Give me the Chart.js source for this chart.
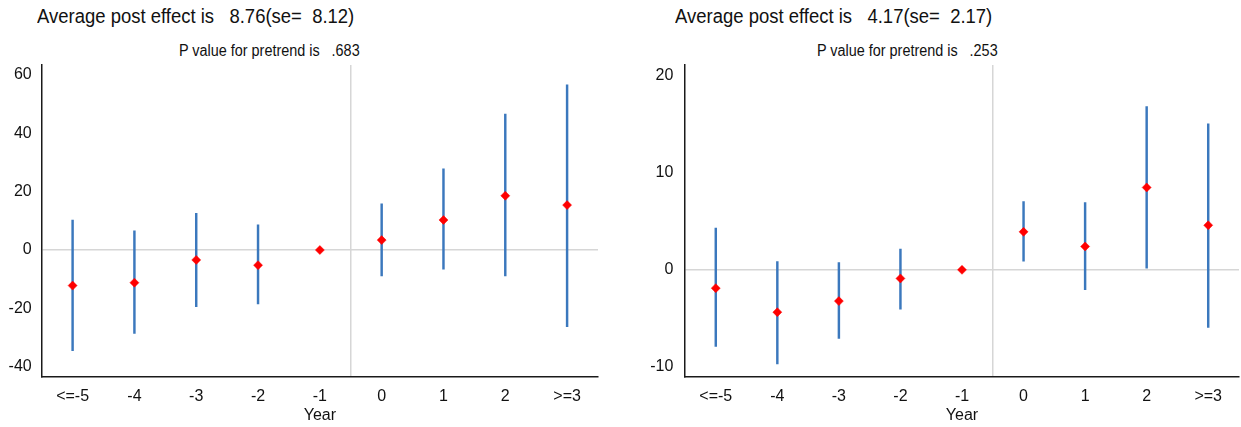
<!DOCTYPE html>
<html>
<head>
<meta charset="utf-8">
<script src="https://cdn.jsdelivr.net/npm/chart.js@4"></script>
<style>
  html, body { margin: 0; padding: 0; background: #fff; width: 1241px; height: 427px; overflow: hidden; }
  body { position: relative; font-family: "Liberation Sans", Arial, sans-serif; }
  canvas { position: absolute; top: 0; }
  .title { position: absolute; white-space: pre; font-size: 20px; line-height: 20px; color: #111; transform-origin: left top; transform: scaleX(0.924); }
  .sub { position: absolute; white-space: pre; font-size: 16px; line-height: 16px; color: #111; transform-origin: left top; transform: scaleX(0.9); }
</style>
</head>
<body>
<div class="title" style="left:37px; top:6px;">Average post effect is   8.76(se=  8.12)</div>
<div class="sub" style="left:179px; top:43px;">P value for pretrend is   .683</div>
<div class="title" style="left:675px; top:6px;">Average post effect is   4.17(se=  2.17)</div>
<div class="sub" style="left:817px; top:43px;">P value for pretrend is   .253</div>
<canvas id="c1" width="620" height="427" style="left:0; width:620px; height:427px;"></canvas>
<canvas id="c2" width="624" height="427" style="left:620px; width:624px; height:427px;"></canvas>
<script>
const categories = ["<=-5", "-4", "-3", "-2", "-1", "0", "1", "2", ">=3"];

// Left panel
const leftCoef  = [-12.2, -11.2, -3.4, -5.2, 0, 3.4, 10.3, 18.6, 15.4];
const leftLower = [-34.5, -28.6, -19.4, -18.5, null, -8.9, -6.6, -8.9, -26.3];
const leftUpper = [10.3, 6.6, 12.6, 8.6, null, 15.8, 27.8, 46.6, 56.6];
const leftTicks = [-40, -20, 0, 20, 40, 60];

// Right panel
const rightCoef  = [-1.89, -4.37, -3.23, -0.89, 0, 3.92, 2.41, 8.5, 4.6];
const rightLower = [-7.9, -9.7, -7.09, -4.06, null, 0.89, -2.06, 0.17, -5.95];
const rightUpper = [4.3, 0.86, 0.76, 2.13, null, 7.05, 6.95, 16.86, 15.07];
const rightTicks = [-10, 0, 10, 20];

const FONT = "'Liberation Sans', Arial, sans-serif";

function makeChart(id, coef, lower, upper, ticks, yMin, yMax, yWidth, yPad, padRight) {
  const ranges = lower.map((lo, i) => (lo === null ? null : [lo, upper[i]]));
  new Chart(document.getElementById(id), {
    data: {
      labels: categories,
      datasets: [
        {
          type: 'line',
          data: coef,
          showLine: false,
          pointStyle: 'rectRot',
          pointRadius: 4.5,
          pointBackgroundColor: '#ff0000',
          pointBorderColor: '#ff0000',
          pointBorderWidth: 0.5,
          order: 0
        },
        {
          type: 'bar',
          data: ranges,
          backgroundColor: '#3b78bd',
          borderWidth: 0,
          barThickness: 1.8,
          order: 1
        }
      ]
    },
    options: {
      responsive: false,
      animation: false,
      events: [],
      layout: { padding: { left: 0, right: padRight, top: 65, bottom: 0 } },
      plugins: { legend: { display: false }, tooltip: { enabled: false }, title: { display: false } },
      scales: {
        x: {
          type: 'category',
          offset: true,
          grid: {
            offset: true,
            drawTicks: false,
            color: ctx => (ctx.index === 5 ? '#d6d6d6' : 'rgba(0,0,0,0)'),
            lineWidth: 1.5
          },
          border: { display: true, color: '#1a1a1a', width: 1.5 },
          ticks: { color: '#111', font: { family: FONT, size: 16 }, padding: 10, maxRotation: 0, autoSkip: false },
          title: { display: true, text: 'Year', color: '#111', font: { family: FONT, size: 16 }, padding: { top: 0, bottom: 2 } },
          afterFit: s => { s.height = 50.3; }
        },
        y: {
          type: 'linear',
          min: yMin,
          max: yMax,
          afterBuildTicks: s => { s.ticks = ticks.map(v => ({ value: v })); },
          grid: {
            drawTicks: false,
            color: ctx => (ctx.tick && ctx.tick.value === 0 ? '#d6d6d6' : 'rgba(0,0,0,0)'),
            lineWidth: 1.5
          },
          border: { display: true, color: '#1a1a1a', width: 1.5 },
          ticks: { color: '#111', font: { family: FONT, size: 16 }, padding: yPad },
          afterFit: s => { s.width = yWidth; }
        }
      }
    }
  });
}

makeChart('c1', leftCoef, leftLower, leftUpper, leftTicks, -43.43, 63.43, 41.7, 10, 22);
makeChart('c2', rightCoef, rightLower, rightUpper, rightTicks, -11.03, 21.14, 65, 11.7, 1.5);
</script>
</body>
</html>
